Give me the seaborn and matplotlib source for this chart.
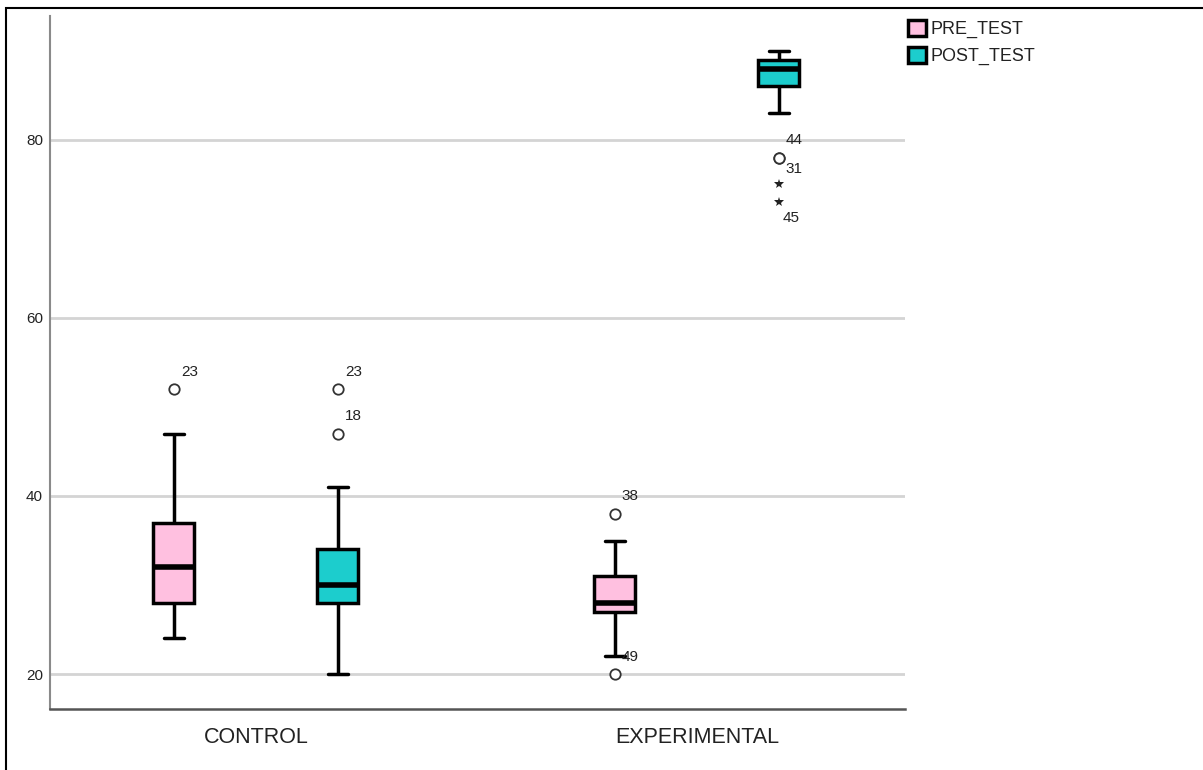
import numpy as np
import pandas as pd
import matplotlib.pyplot as plt
import seaborn as sns
from matplotlib.patches import Patch, Rectangle

groups = ["CONTROL", "EXPERIMENTAL"]
tests = ["PRE_TEST", "POST_TEST"]
colors = ["#ffc0e0", "#1ccdcd"]

# five-number summaries: low whisker, Q1, median, Q3, high whisker
control_pre = [24, 28, 32, 37, 47]
control_post = [20, 28, 30, 34, 41]
experimental_pre = [22, 27, 28, 31, 35]
experimental_post = [83, 86, 88, 89, 90]

# outliers ("o") and extremes ("*") with their case numbers
out_group = ["CONTROL", "CONTROL", "CONTROL", "EXPERIMENTAL", "EXPERIMENTAL",
             "EXPERIMENTAL", "EXPERIMENTAL", "EXPERIMENTAL", "EXPERIMENTAL"]
out_test = ["PRE_TEST", "POST_TEST", "POST_TEST", "PRE_TEST", "PRE_TEST",
            "POST_TEST", "POST_TEST", "POST_TEST", "POST_TEST"]
out_value = [52, 52, 47, 38, 20, 78, 78, 75, 73]
out_case = ["23", "23", "18", "38", "49", "44", "31", "", "45"]
out_kind = ["o", "o", "o", "o", "o", "o", "o", "*", "*"]

summaries = {
    ("CONTROL", "PRE_TEST"): control_pre,
    ("CONTROL", "POST_TEST"): control_post,
    ("EXPERIMENTAL", "PRE_TEST"): experimental_pre,
    ("EXPERIMENTAL", "POST_TEST"): experimental_post,
}
rows = [(g, t, v) for (g, t), vals in summaries.items() for v in vals]
df = pd.DataFrame(rows, columns=["group", "test", "score"])

sns.set_style("white")
plt.rcParams["font.family"] = ["Liberation Sans", "DejaVu Sans"]

fig = plt.figure(figsize=(12.03, 7.7), dpi=100)
ax = fig.add_axes([50 / 1203, 1 - 709 / 770, 855 / 1203, 693 / 770])

WIDTH = 0.744
sns.boxplot(data=df, x="group", y="score", hue="test", order=groups, hue_order=tests,
            palette=colors, saturation=1, width=WIDTH, gap=0.75, whis=(0, 100),
            showfliers=False, linewidth=2.5, linecolor="black", legend=False, ax=ax,
            medianprops=dict(linewidth=4, color="black"), zorder=3)

# outliers and extreme values
for g, t, v, case, kind in zip(out_group, out_test, out_value, out_case, out_kind):
    x = groups.index(g) + (tests.index(t) - 0.5) * WIDTH / 2
    if kind == "o":
        ax.plot(x, v, marker="o", ms=7.5, mfc="white", mec="#333333", mew=1.3, zorder=4)
    else:
        ax.plot(x, v, marker="*", ms=7, color="#222222", mew=0, zorder=4)
    if case:
        dx, dy = {"31": (4.5, -8), "45": (3, -11.5)}.get(case, (5, 12.5))
        ax.annotate(case, (x, v), xytext=(dx, dy), textcoords="offset points",
                    ha="left", va="center", fontsize=11, color="#222222", zorder=5)

ax.set_xlim(-0.467, 1.472)
ax.set_ylim(16.08, 93.9)
ax.set_yticks([20, 40, 60, 80])
ax.set_xlabel("")
ax.set_ylabel("")
ax.yaxis.grid(True, color="#d4d4d4", linewidth=2)
ax.set_axisbelow(True)
ax.tick_params(axis="y", length=0, pad=5, labelsize=11, labelcolor="#222222")
ax.tick_params(axis="x", length=0, pad=13, labelsize=15.5, labelcolor="#222222")
for s in ["top", "right"]:
    ax.spines[s].set_visible(False)
ax.spines["left"].set_color("#8a8a8a")
ax.spines["left"].set_linewidth(1.5)
ax.spines["bottom"].set_color("#555555")
ax.spines["bottom"].set_linewidth(1.8)

handles = [Patch(facecolor=c, edgecolor="black", linewidth=2.5, label=t)
           for c, t in zip(colors, tests)]
fig.legend(handles=handles, loc="upper left", bbox_to_anchor=(908 / 1203, 1 - 20 / 770),
           frameon=False, fontsize=13, handlelength=1.0, handleheight=1.0,
           handletextpad=0.25, labelspacing=0.45, borderpad=0, borderaxespad=0,
           labelcolor="#222222")

# frame around the whole output, as in the viewer export
fig.patches.append(Rectangle((6 / 1203, -0.05), 1.2, 1.05 - 7.5 / 770,
                             transform=fig.transFigure, fill=False,
                             edgecolor="black", linewidth=1.5))

fig.savefig("out.png", dpi=100)
